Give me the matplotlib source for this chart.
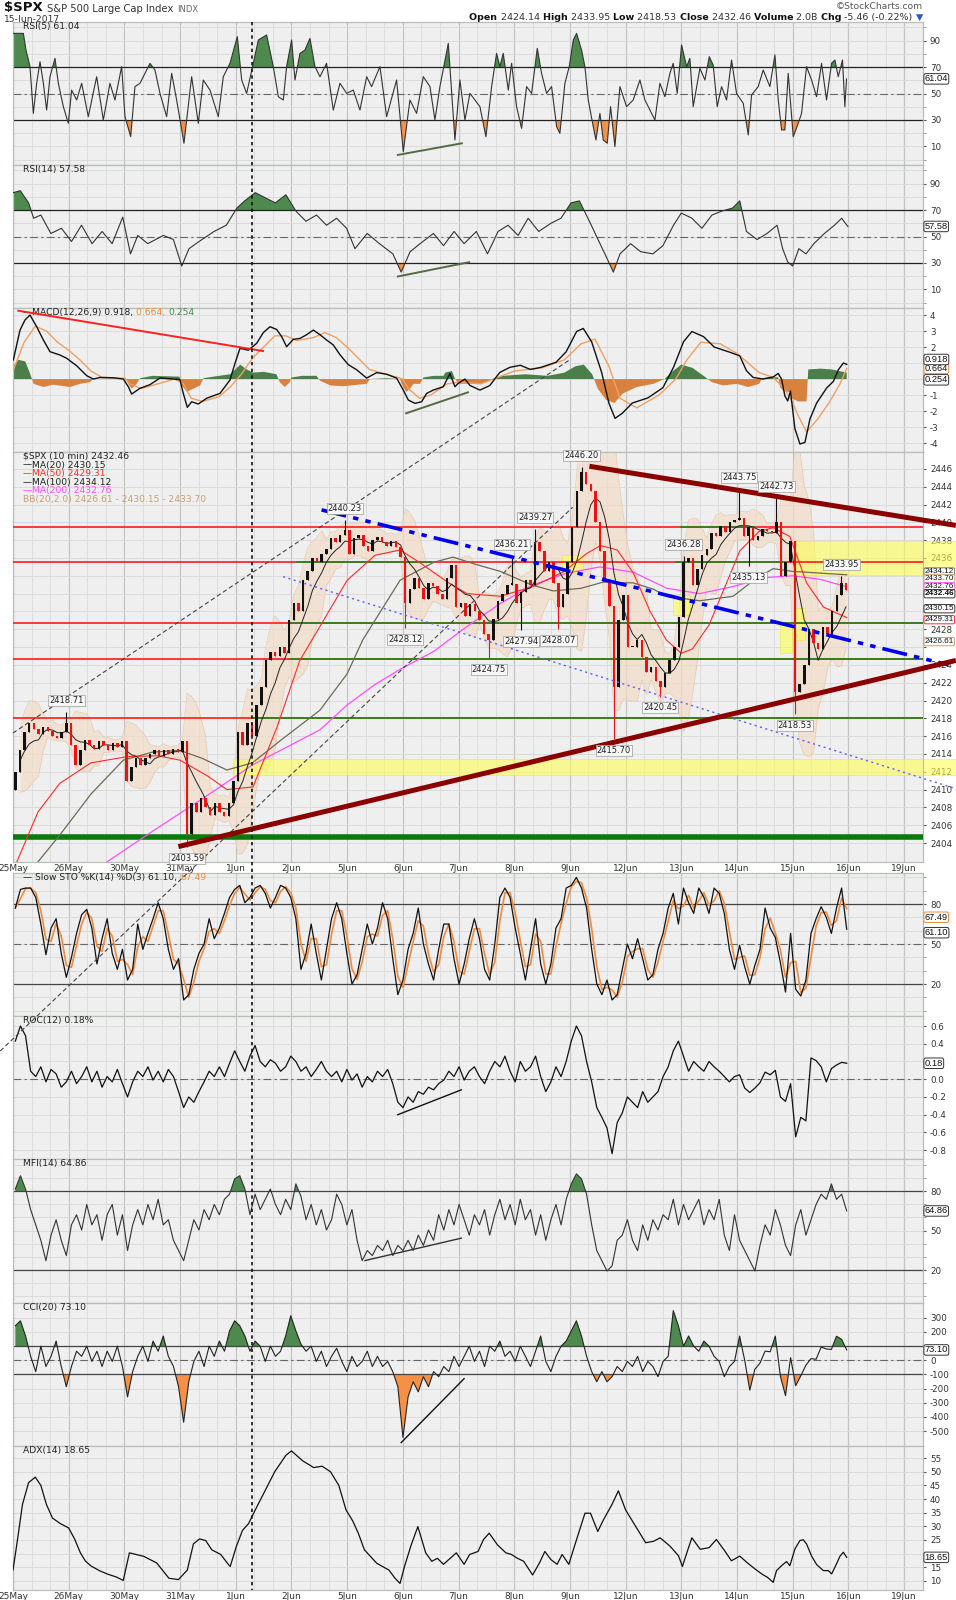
"""StockCharts style 10-minute $SPX chart with eight indicator panels."""

import numpy as np
import pandas as pd
import matplotlib

matplotlib.use("Agg")
import matplotlib.pyplot as plt
from matplotlib import transforms
from matplotlib.lines import Line2D
from matplotlib.patches import Rectangle
from matplotlib.ticker import FixedLocator, MultipleLocator, FormatStrFormatter

plt.rcParams["font.family"] = ["DejaVu Sans"]
plt.rcParams["axes.unicode_minus"] = False

# ---------------------------------------------------------------- data
day_labels = ["25May", "26May", "30May", "31May", "1Jun", "2Jun", "5Jun", "6Jun",
              "7Jun", "8Jun", "9Jun", "12Jun", "13Jun", "14Jun", "15Jun", "16Jun", "19Jun"]
bars_per_day = 12
spx_first_open = 2410.0
spx_close = [
    2412.0, 2414.5, 2416.5, 2417.5, 2416.8, 2416.2, 2417.0, 2416.6, 2416.0, 2415.8, 2416.5, 2417.5,
    2415.0, 2412.8, 2414.5, 2415.6, 2415.0, 2414.6, 2415.4, 2415.0, 2414.5, 2415.2, 2414.8, 2415.5,
    2411.0, 2412.5, 2413.5, 2412.8, 2413.5, 2414.0, 2414.5, 2413.8, 2414.5, 2414.0, 2414.6, 2414.2,
    2415.5, 2405.0, 2408.5, 2407.5, 2409.0, 2408.0, 2407.2, 2408.5, 2407.5, 2407.0, 2408.5, 2411.0,
    2416.5, 2415.0, 2417.5, 2416.0, 2419.5, 2421.5, 2424.5, 2425.5, 2425.0, 2426.0, 2425.3, 2429.0,
    2431.0, 2430.0, 2433.5, 2434.5, 2436.0, 2435.5, 2436.5, 2437.0, 2438.3, 2437.8, 2438.6, 2439.1,
    2436.4, 2438.2, 2438.6, 2437.4, 2436.8, 2438.0, 2438.4, 2437.8, 2437.4, 2437.9, 2437.2, 2436.1,
    2431.0, 2432.5, 2433.8, 2432.6, 2431.4, 2433.2, 2432.8, 2432.0, 2431.4, 2433.8, 2435.2, 2430.5,
    2431.0, 2429.5, 2430.8, 2430.0, 2429.0, 2427.5, 2426.8, 2429.2, 2431.2, 2432.0, 2433.0, 2433.1,
    2431.0, 2432.2, 2433.5, 2433.0, 2437.8, 2436.8, 2434.5, 2435.5, 2433.2, 2430.5, 2432.0, 2435.5,
    2439.5, 2443.5, 2445.6, 2444.3, 2443.5, 2440.0, 2436.8, 2433.3, 2430.6, 2421.5, 2429.0, 2431.8,
    2426.0, 2426.0, 2426.8, 2424.9, 2423.2, 2423.8, 2422.2, 2421.5, 2423.1, 2424.5, 2426.0, 2429.4,
    2435.5, 2436.0, 2433.0, 2434.8, 2436.3, 2437.0, 2438.8, 2438.5, 2439.6, 2438.9, 2440.0, 2440.3,
    2440.5, 2438.5, 2439.5, 2438.0, 2438.5, 2439.2, 2439.0, 2438.8, 2440.0, 2434.0, 2435.5, 2437.9,
    2421.0, 2421.8, 2424.0, 2428.0, 2426.5, 2425.8, 2428.2, 2427.5, 2430.0, 2431.8, 2433.2, 2432.46,
]
# (bar index, value) of the labelled swing highs and lows
spx_highs = [(11, 2418.71), (71, 2440.23), (107, 2436.21), (112, 2439.27), (122, 2446.20),
             (144, 2436.28), (156, 2443.75), (164, 2442.73), (178, 2433.95)]
spx_lows = [(37, 2403.59), (84, 2428.12), (102, 2424.75), (109, 2427.94), (117, 2428.07),
            (129, 2415.70), (139, 2420.45), (158, 2435.13), (168, 2418.53)]

ma50 = [(0.07, 2401.9), (0.45, 2407.5), (0.84, 2410.7), (1.4, 2413.0), (2.05, 2413.7), (2.6, 2413.8),
        (3.0, 2413.3), (3.5, 2411.5), (3.84, 2410.0), (4.31, 2410.3), (4.74, 2417.0), (5.15, 2424.5),
        (5.51, 2428.3), (6.0, 2433.5), (6.5, 2436.3), (6.95, 2436.9), (7.3, 2435.5),
        (7.8, 2433.3), (8.15, 2432.0), (8.75, 2431.7), (9.34, 2432.8), (9.9, 2434.5), (10.3, 2436.5),
        (10.55, 2437.4), (10.85, 2436.9), (11.14, 2434.3), (11.44, 2430.0), (11.73, 2426.8),
        (12.0, 2425.3), (12.2, 2425.8), (12.5, 2428.5), (12.8, 2433.0), (13.05, 2436.8),
        (13.4, 2439.0), (13.65, 2439.4), (13.95, 2438.4), (14.25, 2433.2), (14.55, 2430.5),
        (14.97, 2429.31)]
ma100 = [(0.45, 2401.9), (0.84, 2404.9), (1.4, 2409.5), (1.98, 2413.3), (2.5, 2414.2), (3.0, 2414.4),
         (3.4, 2413.5), (3.84, 2412.2), (4.3, 2413.0), (4.8, 2415.5), (5.51, 2418.9), (6.0, 2423.0),
         (6.28, 2426.8), (6.95, 2433.5), (7.55, 2435.5), (7.9, 2436.1), (8.3, 2435.3), (8.75, 2434.5),
         (9.3, 2433.0), (9.7, 2432.3), (10.2, 2432.6), (10.6, 2433.3), (11.14, 2433.2), (11.5, 2432.5),
         (11.73, 2431.7), (12.33, 2431.2), (12.93, 2431.7), (13.3, 2433.5), (13.65, 2434.8),
         (14.0, 2434.5), (14.5, 2434.3), (14.97, 2434.12)]
ma200 = [(1.6, 2401.5), (1.74, 2402.1), (2.5, 2405.3), (3.36, 2408.8), (4.31, 2412.8), (5.51, 2416.7),
         (6.0, 2419.5), (6.5, 2421.8), (6.95, 2423.5), (7.55, 2425.5), (8.15, 2428.3), (8.75, 2430.9),
         (9.34, 2433.0), (9.94, 2434.3), (10.54, 2435.0), (11.14, 2434.4), (11.74, 2432.6),
         (12.33, 2432.0), (12.93, 2432.8), (13.5, 2433.8), (14.0, 2434.0), (14.5, 2433.6),
         (14.97, 2432.76)]

# horizontal support / resistance levels
red_levels = [2439.5, 2435.6, 2428.7, 2424.7, 2418.0]
green_segments = [(2439.5, 12.0, 13.3), (2435.6, 5.1, 7.5), (2435.6, 11.9, 13.8),
                  (2428.7, 4.97, 16.34), (2424.7, 4.97, 16.34), (2418.0, 4.31, 16.34)]
floor_level = 2404.7
# (day0, value0, day1, value1)
trend_upper = (10.35, 2446.3, 16.93, 2439.66)
trend_lower = (2.97, 2403.6, 16.93, 2424.5)
channel_blue = (5.54, 2441.4, 16.8, 2424.0)
channel_dotted = (4.85, 2433.9, 16.93, 2410.1)
fan_lines = [(0.0, 2416.35, 10.02, 2458.35), (-0.23, 2380.65, 10.05, 2441.7)]
# (day0, day1, low, high)
yellow_zones = [(3.95, 16.93, 2411.6, 2413.45), (14.02, 16.93, 2434.1, 2437.9),
                (9.85, 10.24, 2434.3, 2436.3), (11.85, 12.15, 2429.6, 2431.85),
                (13.77, 13.98, 2425.3, 2428.5), (14.0, 14.22, 2426.8, 2430.35)]
marker_day = 4.3

rsi5 = [(0.006, 95.4), (0.186, 95.4), (0.233, 82.8), (0.305, 70.3), (0.365, 35.0), (0.425, 57.7),
        (0.485, 74.0), (0.545, 57.7), (0.604, 37.5), (0.664, 62.7), (0.754, 76.5), (0.814, 57.7),
        (0.904, 40.1), (0.993, 27.5), (1.053, 52.6), (1.143, 45.1), (1.233, 57.7), (1.352, 32.5),
        (1.502, 62.7), (1.622, 30.0), (1.741, 57.7), (1.831, 45.1), (1.951, 70.3), (2.011, 32.5),
        (2.113, 17.4), (2.190, 55.2), (2.280, 57.7), (2.460, 72.8), (2.549, 67.7), (2.639, 50.1),
        (2.759, 32.5), (2.849, 65.2), (2.938, 45.1), (3.070, 12.4), (3.208, 62.7), (3.327, 27.5),
        (3.417, 60.2), (3.537, 52.6), (3.686, 32.5), (3.776, 62.7), (3.896, 72.8), (4.028, 92.9),
        (4.106, 60.2), (4.195, 50.1), (4.315, 72.8), (4.405, 90.4), (4.554, 94.2), (4.674, 70.3),
        (4.764, 47.6), (4.853, 45.1), (4.913, 70.3), (5.003, 90.4), (5.063, 60.2), (5.153, 80.3),
        (5.242, 82.8), (5.332, 91.6), (5.422, 70.3), (5.512, 62.7), (5.631, 72.8), (5.751, 37.5),
        (5.871, 57.7), (5.991, 50.1), (6.110, 52.6), (6.230, 37.5), (6.350, 62.7), (6.439, 55.2),
        (6.589, 70.3), (6.709, 32.5), (6.888, 60.2), (7.008, 6.1), (7.127, 45.1), (7.247, 35.0),
        (7.367, 62.7), (7.487, 55.2), (7.576, 30.0), (7.666, 55.2), (7.816, 87.9), (7.935, 14.9),
        (8.025, 60.2), (8.115, 30.0), (8.205, 50.1), (8.384, 40.1), (8.492, 17.4), (8.594, 55.2),
        (8.683, 80.3), (8.743, 70.3), (8.803, 80.3), (8.893, 52.6), (8.953, 72.8), (9.042, 40.1),
        (9.132, 23.7), (9.222, 55.2), (9.312, 50.1), (9.414, 84.1), (9.491, 65.2), (9.581, 50.1),
        (9.671, 55.2), (9.761, 25.0), (9.820, 19.9), (9.910, 57.7), (9.988, 70.3), (10.060, 90.4),
        (10.120, 95.4), (10.209, 82.8), (10.269, 70.3), (10.329, 45.1), (10.419, 25.0),
        (10.467, 14.9), (10.539, 35.0), (10.598, 14.9), (10.670, 12.4), (10.730, 40.1),
        (10.808, 9.9), (10.898, 55.2), (11.017, 40.1), (11.137, 45.1), (11.257, 60.2),
        (11.347, 45.1), (11.436, 37.5), (11.526, 30.0), (11.616, 57.7), (11.706, 47.6),
        (11.795, 65.2), (11.855, 72.8), (11.927, 50.1), (12.005, 86.6), (12.095, 70.3),
        (12.154, 76.5), (12.214, 40.1), (12.334, 69.0), (12.424, 60.2), (12.502, 77.8),
        (12.573, 71.5), (12.645, 40.1), (12.723, 55.2), (12.813, 45.1), (12.902, 75.3),
        (12.992, 50.1), (13.112, 42.6), (13.202, 18.7), (13.262, 48.9), (13.381, 55.2),
        (13.471, 67.7), (13.591, 55.2), (13.681, 79.1), (13.741, 45.1), (13.800, 22.5),
        (13.860, 22.5), (13.920, 65.2), (14.010, 17.4), (14.100, 27.5), (14.159, 35.0),
        (14.249, 70.3), (14.339, 60.2), (14.429, 47.6), (14.518, 72.8), (14.608, 45.1),
        (14.698, 72.8), (14.758, 75.3), (14.818, 62.7), (14.895, 75.3), (14.937, 40.1),
        (14.967, 61.04)]

rsi14 = [(0.005, 83.1), (0.13, 84.6), (0.28, 75.4), (0.37, 63.8), (0.5, 66.2), (0.68, 52.3),
         (0.87, 56.2), (1.05, 46.2), (1.23, 58.5), (1.42, 44.6), (1.6, 53.8), (1.78, 44.6),
         (1.97, 64.6), (2.11, 36.9), (2.24, 50.8), (2.42, 44.6), (2.7, 50.8), (2.88, 47.7),
         (3.03, 27.7), (3.16, 40.8), (3.34, 46.2), (3.61, 53.8), (3.83, 58.5), (4.02, 71.5),
         (4.16, 76.9), (4.35, 83.1), (4.53, 79.2), (4.71, 75.4), (4.9, 81.5), (5.08, 69.2),
         (5.26, 61.5), (5.45, 66.2), (5.63, 58.5), (5.81, 63.8), (5.99, 56.2), (6.14, 40.8),
         (6.36, 52.3), (6.58, 44.6), (6.82, 36.9), (6.97, 23.1), (7.13, 38.5), (7.31, 44.6),
         (7.55, 52.3), (7.73, 43.1), (7.92, 53.8), (8.1, 44.6), (8.32, 53.8), (8.52, 36.9),
         (8.71, 53.8), (8.89, 58.5), (9.07, 50.8), (9.25, 63.8), (9.44, 53.8), (9.66, 60.0),
         (9.84, 63.8), (10.02, 75.4), (10.17, 76.9), (10.35, 61.5), (10.54, 44.6), (10.67, 33.1),
         (10.78, 23.1), (10.9, 36.9), (11.09, 44.6), (11.27, 38.5), (11.49, 36.9), (11.67, 43.1),
         (11.86, 58.5), (12.0, 67.7), (12.19, 63.8), (12.37, 56.2), (12.55, 66.2), (12.73, 69.2),
         (12.92, 71.5), (13.05, 76.9), (13.17, 53.8), (13.36, 47.7), (13.54, 52.3), (13.72, 58.5),
         (13.82, 40.8), (13.91, 30.8), (14.0, 27.7), (14.11, 40.8), (14.24, 36.9), (14.38, 44.6),
         (14.57, 52.3), (14.75, 58.5), (14.88, 63.8), (14.99, 57.58)]

macd_line = [(0.006, 1.19), (0.126, 3.06), (0.215, 3.69), (0.305, 4.0), (0.425, 3.27), (0.545, 2.44),
             (0.664, 1.71), (0.844, 1.5), (0.963, 1.3), (1.143, 0.83), (1.323, 0.21), (1.442, 0.0),
             (1.562, 0.1), (1.801, 0.08), (1.981, 0.0), (2.071, -0.48), (2.13, -0.94), (2.28, -0.58),
             (2.46, -0.35), (2.639, 0.06), (2.878, 0.0), (2.998, -0.04), (3.058, -0.9), (3.13, -1.77),
             (3.208, -1.42), (3.327, -1.56), (3.477, -1.2), (3.716, -0.9), (3.896, -0.06),
             (3.986, 0.98), (4.076, 1.92), (4.225, 1.8), (4.375, 2.23), (4.494, 2.9), (4.614, 3.27),
             (4.734, 3.1), (4.824, 2.65), (4.913, 2.02), (5.033, 2.48), (5.153, 2.54), (5.272, 2.77),
             (5.392, 3.06), (5.512, 2.77), (5.631, 2.44), (5.751, 2.13), (5.871, 1.52), (6.02, 0.9),
             (6.17, 0.58), (6.35, 0.06), (6.53, 0.4), (6.71, 0.3), (6.888, 0.06), (7.008, -0.69),
             (7.098, -1.31), (7.217, -1.52), (7.337, -1.42), (7.427, -0.9), (7.546, -0.69),
             (7.726, -0.48), (7.846, 0.35), (7.935, -0.48), (7.995, -0.27), (8.115, 0.0),
             (8.205, -0.4), (8.384, -0.69), (8.56, -0.41), (8.74, 0.41), (8.92, 0.73), (9.11, 0.86),
             (9.29, 0.6), (9.48, 0.73), (9.75, 1.05), (9.93, 1.69), (10.12, 2.97), (10.24, 3.16),
             (10.39, 2.33), (10.57, 0.41), (10.7, -1.5), (10.81, -2.46), (10.94, -2.14),
             (11.12, -1.5), (11.4, -1.18), (11.67, -0.54), (11.86, 0.73), (12.04, 2.33),
             (12.19, 2.97), (12.4, 2.65), (12.59, 2.0), (12.86, 1.69), (13.05, 1.45), (13.17, 0.52),
             (13.29, 0.1), (13.47, 0.0), (13.65, 0.13), (13.74, 0.35), (13.8, 0.0), (13.86, -1.06),
             (13.91, -1.37), (13.96, -0.75), (14.04, -3.1), (14.13, -4.06), (14.22, -3.96),
             (14.31, -2.5), (14.43, -1.5), (14.61, -0.56), (14.73, -0.15), (14.82, 0.58),
             (14.91, 1.0), (14.97, 0.918)]
macd_signal = [(0.0, 0.5), (0.2, 2.3), (0.4, 3.3), (0.6, 3.0), (0.8, 2.3), (1.0, 1.8), (1.2, 1.2),
               (1.4, 0.5), (1.6, 0.1), (2.0, 0.05), (2.1, -0.3), (2.3, -0.6), (2.6, -0.3),
               (2.9, 0.0), (3.06, -0.3), (3.2, -1.2), (3.4, -1.4), (3.7, -1.1), (3.9, -0.5),
               (4.1, 0.3), (4.3, 1.3), (4.5, 2.0), (4.7, 2.7), (4.9, 2.7), (5.1, 2.4), (5.4, 2.6),
               (5.6, 2.9), (5.8, 2.6), (6.0, 2.0), (6.2, 1.3), (6.4, 0.6), (6.7, 0.3), (7.0, 0.0),
               (7.1, -0.6), (7.3, -1.2), (7.5, -1.0), (7.8, -0.3), (8.0, -0.2), (8.4, -0.3),
               (8.7, 0.1), (9.0, 0.5), (9.5, 0.7), (9.9, 1.2), (10.2, 2.2), (10.45, 2.5), (10.7, 0.8),
               (10.9, -1.2), (11.2, -1.8), (11.6, -1.0), (11.9, 0.0), (12.1, 1.2), (12.35, 2.3),
               (12.7, 2.2), (13.0, 1.6), (13.2, 1.0), (13.4, 0.4), (13.65, 0.1), (13.85, -0.6),
               (14.0, -1.5), (14.1, -2.3), (14.25, -3.3), (14.45, -2.5), (14.65, -1.5),
               (14.85, -0.3), (14.97, 0.664)]
macd_hist = [(0.0, 0.8), (0.1, 1.2), (0.22, 1.1), (0.3, 0.4), (0.34, 0.0), (0.37, -0.3), (0.55, -0.5),
             (0.72, -0.35), (1.02, -0.5), (1.2, -0.3), (1.38, -0.2), (1.44, 0.0), (2.03, 0.05),
             (2.07, -0.3), (2.13, -0.6), (2.22, -0.3), (2.28, 0.05), (2.5, 0.2), (2.99, 0.15),
             (3.03, -0.4), (3.12, -0.8), (3.36, -0.4), (3.42, 0.05), (3.6, 0.15), (3.9, 0.3),
             (4.08, 0.9), (4.2, 0.6), (4.31, 0.4), (4.5, 0.45), (4.73, 0.3), (4.79, -0.2),
             (4.88, -0.5), (4.97, -0.2), (5.0, 0.1), (5.2, 0.2), (5.45, 0.2), (5.51, -0.1),
             (5.7, -0.4), (5.93, -0.45), (6.35, -0.3), (6.41, 0.0), (6.7, 0.05), (6.95, 0.0),
             (6.98, -0.3), (7.06, -0.8), (7.13, -0.6), (7.19, -0.3), (7.31, -0.3), (7.37, 0.1),
             (7.55, 0.2), (7.73, 0.2), (7.76, 0.4), (7.88, 0.5), (7.94, 0.0), (8.0, -0.3),
             (8.38, -0.3), (8.5, -0.2), (8.6, 0.0), (8.8, 0.2), (9.2, 0.3), (9.6, 0.2), (9.9, 0.4),
             (10.1, 0.8), (10.25, 0.9), (10.4, 0.3), (10.5, -0.6), (10.65, -1.3), (10.8, -1.5),
             (10.95, -0.9), (11.2, -0.5), (11.5, -0.3), (11.7, 0.0), (11.85, 0.5), (12.0, 0.9),
             (12.2, 0.7), (12.4, 0.2), (12.55, -0.2), (12.75, -0.4), (13.0, -0.3), (13.2, -0.5),
             (13.4, -0.3), (13.45, 0.05), (13.6, 0.12), (13.74, 0.1), (13.77, -0.5), (13.85, -0.8),
             (13.95, -0.8), (13.98, -1.2), (14.1, -1.4), (14.25, -1.4), (14.28, 0.6), (14.5, 0.65),
             (14.7, 0.6), (14.97, 0.4)]

# oscillators sampled at even steps from the first to the last bar
sample_start, sample_end = 0.042, 14.97
sto_k = [77, 91, 92, 92, 85, 65, 42, 62, 69, 43, 25, 40, 58, 72, 76, 62, 35, 54, 69, 43,
         31, 46, 23, 31, 65, 46, 58, 69, 81, 69, 46, 31, 39, 8, 12, 31, 43, 50, 69, 54,
         62, 73, 85, 91, 94, 81, 85, 92, 94, 88, 77, 85, 94, 92, 85, 69, 31, 43, 65, 43,
         23, 46, 69, 81, 69, 43, 20, 27, 46, 65, 50, 62, 81, 69, 39, 12, 23, 46, 58, 77,
         50, 35, 23, 46, 65, 65, 39, 20, 35, 54, 69, 54, 31, 23, 50, 85, 92, 85, 62, 43,
         23, 46, 69, 35, 20, 35, 62, 69, 92, 94, 100, 92, 77, 46, 20, 12, 23, 8, 12, 31,
         50, 39, 54, 39, 23, 27, 46, 58, 77, 88, 65, 92, 81, 73, 92, 85, 73, 92, 88, 73,
         46, 31, 49, 33, 20, 34, 46, 77, 62, 55, 36, 14, 58, 16, 11, 23, 58, 69, 78, 70,
         58, 77, 92, 61.1]
roc = [0.43, 0.6, 0.49, 0.09, 0.03, 0.14, -0.03, 0.11, 0.06, -0.09,
       -0.03, 0.09, -0.05, 0.03, 0.14, -0.03, 0.09, -0.09, 0.03, -0.03,
       0.11, -0.05, -0.2, -0.03, 0.09, 0.03, 0.14, -0.01, 0.09, -0.03,
       0.11, 0.03, -0.14, -0.32, -0.2, -0.26, -0.14, -0.03, 0.09, 0.03,
       0.14, 0.03, 0.18, 0.32, 0.2, 0.09, 0.26, 0.38, 0.2, 0.14,
       0.22, 0.18, 0.09, 0.14, 0.26, 0.2, 0.09, 0.14, 0.03, 0.11,
       0.2, 0.09, 0.03, 0.09, -0.03, 0.11, -0.01, 0.06, -0.09, 0.03,
       -0.03, 0.09, 0.03, 0.11, -0.05, -0.26, -0.32, -0.2, -0.26, -0.14,
       -0.17, -0.09, -0.12, -0.05, -0.01, 0.09, 0.03, 0.14, -0.01, 0.09,
       0.14, 0.03, -0.05, 0.09, 0.2, 0.14, 0.26, 0.09, -0.03, 0.2,
       0.09, 0.14, 0.26, 0.03, -0.14, -0.03, 0.14, 0.03, 0.2, 0.43,
       0.6, 0.49, 0.2, -0.03, -0.32, -0.43, -0.55, -0.84, -0.49, -0.38,
       -0.2, -0.26, -0.32, -0.14, -0.26, -0.2, -0.14, 0.03, 0.14, 0.32,
       0.43, 0.26, 0.09, 0.2, 0.14, 0.09, 0.2, 0.14, 0.09, 0.03,
       -0.03, 0.03, 0.05, -0.1, -0.15, -0.1, -0.04, 0.08, 0.05, 0.1,
       -0.2, -0.25, -0.05, -0.65, -0.43, -0.47, 0.24, 0.21, 0.14, -0.03,
       0.12, 0.16, 0.19, 0.18]
mfi = [81.5, 91.6, 81.5, 65.9, 54.3, 42.6, 27.1, 46.5, 58.2, 42.6,
       31, 54.3, 62, 50.4, 69.8, 54.3, 62, 42.6, 62, 69.8,
       46.5, 62, 34.8, 54.3, 65.9, 54.3, 69.8, 58.2, 73.7, 54.3,
       58.2, 42.6, 34.8, 27.1, 42.6, 58.2, 50.4, 65.9, 58.2, 69.8,
       62, 73.7, 77.6, 89.2, 91.6, 81.5, 62, 77.6, 65.9, 73.7,
       81.5, 69.8, 62, 73.7, 65.9, 85.4, 76, 58.2, 69.8, 54.3,
       65.9, 50.4, 58.2, 77.6, 69.8, 54.3, 65.9, 42.6, 27.1, 34.8,
       31, 38.7, 34.8, 42.6, 31, 38.7, 34.8, 42.6, 34.8, 46.5,
       38.7, 50.4, 42.6, 62, 50.4, 65.9, 54.3, 69.8, 58.2, 46.5,
       62, 54.3, 65.9, 46.5, 62, 73.7, 58.2, 69.8, 54.3, 73.7,
       58.2, 65.9, 46.5, 62, 42.6, 58.2, 69.8, 54.3, 73.7, 85.4,
       93, 89.2, 77.6, 54.3, 34.8, 27.1, 19.3, 23.2, 42.6, 46.5,
       58.2, 42.6, 34.8, 54.3, 42.6, 58.2, 50.4, 62, 58.2, 73.7,
       54.3, 69.8, 58.2, 65.9, 73.7, 54.3, 65.9, 58.2, 73.7, 46.5,
       34.8, 62, 42.6, 34.8, 27.1, 19.3, 38.7, 54.3, 46.5, 65.9,
       54.3, 38.7, 31, 54.3, 65.9, 46.5, 58.2, 69.8, 77.6, 73.7,
       85.4, 73.7, 77.6, 64.86]
cci = [244, 279, 172, 28, -80, 100, -44, 28, 136, -44,
       -187, -44, 64, 28, 100, -8, 64, -44, 64, -8,
       100, -44, -259, -80, 28, 100, -8, 136, 64, 172,
       28, -44, -187, -438, -152, -8, 64, -44, 100, 28,
       136, 64, 208, 279, 244, 172, 64, 136, 100, -8,
       100, 28, 64, 172, 315, 208, 114, 64, 100, -8,
       64, -44, 28, 85, -8, -80, 28, -44, -8, 64,
       -44, 28, -44, -8, -80, -187, -546, -259, -152, -223,
       -116, -187, -80, -116, -44, -80, 28, -44, 28, 100,
       -8, 64, -44, 100, 64, 136, 28, 64, -8, 100,
       28, -44, 64, 172, -8, -80, 28, 100, 136, 208,
       279, 172, 28, -80, -152, -80, -152, -116, -44, -80,
       -8, -44, 28, -80, -8, -44, -116, -8, 28, 351,
       244, 100, 172, 100, 64, 136, 100, 28, -8, -116,
       -44, -8, 171, 0, -211, -63, -20, 65, 60, 171,
       -113, -250, 19, -180, -110, -35, 12, 7, 94, 80,
       77, 170, 148, 73.1]

adx = [(0.0, 14), (0.08, 25), (0.17, 38), (0.28, 46), (0.4, 48), (0.5, 45), (0.6, 38), (0.71, 33),
       (0.85, 31), (1.0, 29.4), (1.11, 25.2), (1.21, 20.3), (1.3, 17.3), (1.4, 15.5), (1.56, 13.7),
       (1.7, 12.5), (1.85, 11.5), (1.98, 10.2), (2.09, 20.3), (2.35, 19), (2.58, 16.6), (2.8, 11),
       (2.97, 10.5), (3.13, 14.0), (3.24, 23.6), (3.35, 25.4), (3.46, 24.8), (3.57, 21.4),
       (3.73, 19.7), (3.85, 16.5), (3.9, 15.3), (4.01, 22.6), (4.12, 28.5), (4.23, 31),
       (4.34, 35.6), (4.5, 42), (4.7, 50), (4.9, 56), (5.0, 57.6), (5.2, 54), (5.4, 51.5),
       (5.55, 52), (5.7, 50), (5.85, 45), (5.98, 36), (6.1, 32), (6.2, 27.5), (6.31, 21.4),
       (6.53, 16.5), (6.75, 14.0), (6.86, 11), (6.95, 9.1), (7.03, 15.3), (7.15, 23.2),
       (7.27, 29.9), (7.41, 20.3), (7.52, 17.2), (7.62, 18.3), (7.73, 16.1), (7.96, 20.3),
       (8.1, 16.1), (8.2, 19.7), (8.35, 20.8), (8.45, 25.2), (8.55, 27.5), (8.7, 23.2),
       (8.85, 20.3), (8.95, 19.7), (9.05, 18.4), (9.17, 17.2), (9.33, 12.2), (9.45, 16.5),
       (9.55, 20.8), (9.66, 17.8), (9.77, 16.1), (9.86, 19.7), (9.98, 16.1), (10.12, 25.2),
       (10.27, 34.8), (10.37, 34.8), (10.5, 28.1), (10.6, 32.3), (10.76, 38.2), (10.87, 43),
       (11.0, 36), (11.18, 30), (11.36, 24), (11.5, 24.5), (11.62, 25.8), (11.8, 22.7),
       (11.95, 19.2), (12.02, 15.3), (12.12, 21.6), (12.19, 25.8), (12.34, 21.6), (12.5, 22.2),
       (12.63, 25.2), (12.78, 21), (12.9, 17.4), (13.05, 19.1), (13.2, 16.4), (13.35, 14),
       (13.45, 12.5), (13.55, 11.3), (13.65, 9.5), (13.71, 13.8), (13.8, 15.6), (13.89, 17.1),
       (13.95, 15.6), (14.04, 21.7), (14.13, 24.8), (14.19, 25.1), (14.25, 23.5), (14.34, 19.1),
       (14.43, 16), (14.55, 13.8), (14.64, 13.8), (14.7, 12.6), (14.79, 16.4), (14.85, 19.1),
       (14.91, 20.5), (14.97, 18.65)]

# hand-drawn trend lines in the indicator panels (day0, value0, day1, value1)
rsi5_trend = (6.91, 3.6, 8.06, 12.4)
rsi14_trend = (6.91, 19.8, 8.19, 30.6)
macd_red_trend = (0.095, 4.27, 4.49, 1.75)
macd_green_trend = (7.06, -2.14, 8.17, -0.83)
roc_trend = (6.91, -0.40, 8.05, -0.12)
mfi_trend = (6.32, 27.2, 8.05, 44.2)
cci_trend = (6.97, -582, 8.10, -130)

# ---------------------------------------------------------------- layout
W, H = 956, 1600
XMAX = 16.34
GREEN_FILL = "#4e8a4e"
ORANGE_FILL = "#f49145"
BG = "#efefef"
TAG_FONT = ["Liberation Sans", "DejaVu Sans"]

fig = plt.figure(figsize=(W / 100, H / 100), dpi=100)
fig.patch.set_facecolor("white")
# transparent full-figure axes that carries the header texts
overlay = fig.add_axes([0, 0, 1, 1], facecolor="none")
overlay.set_axis_off()


def make_panel(top, bottom, ylim, yticks, yminor=()):
    ax = fig.add_axes([13 / W, 1 - bottom / H, 910 / W, (bottom - top) / H])
    ax.set_facecolor(BG)
    ax.set_xlim(0, XMAX)
    ax.set_ylim(*ylim)
    ax.xaxis.set_major_locator(FixedLocator(range(17)))
    ax.xaxis.set_minor_locator(MultipleLocator(1 / 3))
    ax.set_xticklabels([])
    ax.tick_params(axis="x", which="both", length=0)
    ax.yaxis.tick_right()
    ax.set_yticks(yticks)
    if len(yminor):
        ax.set_yticks(yminor, minor=True)
    ax.tick_params(axis="y", which="major", labelsize=6.3, length=2.5, pad=2.5,
                   colors="#555555", labelcolor="#333333")
    ax.tick_params(axis="y", which="minor", length=2, colors="#888888")
    ax.set_axisbelow(True)
    ax.grid(which="major", axis="x", color="#c4c4c4", lw=0.9)
    ax.grid(which="minor", axis="x", color="#dadada", lw=0.6)
    ax.grid(which="both", axis="y", color="#d8d8d8", lw=0.6)
    for s in ax.spines.values():
        s.set_color("#b3c2b3")
        s.set_linewidth(0.9)
    return ax


def date_labels(ax):
    ax.set_xticklabels(day_labels, fontsize=6.5, color="#333333")
    ax.tick_params(axis="x", which="major", pad=1.5)


def chain_line(target, x, y, parts, size, transform, ha="left"):
    """Write coloured pieces one after another on a common bottom edge."""
    prev = None
    seq = parts if ha == "left" else parts[::-1]
    for part in seq:
        text, color, weight = part[:3]
        kw = dict(fontsize=part[3] if len(part) > 3 else size, color=color,
                  fontweight=weight, va="bottom", ha=ha)
        if prev is None:
            prev = target.text(x, y, text, transform=transform, **kw)
        else:
            prev = target.annotate(text, xy=(1 if ha == "left" else 0, 0), xycoords=prev, **kw)
    return prev


def panel_title(ax, parts, line=0):
    y = 1 - (9 + 8.6 * line) / (ax.bbox.height)
    chain_line(ax, 0.011, y, parts, 6.6, ax.transAxes)


def tag(ax, value, text, ec="#333333", weight="normal", dy=0):
    size = 5.9 if len(text) > 5 else 6.7
    ax.annotate(text, xy=(1.0, value), xycoords=("axes fraction", "data"),
                xytext=(1.2, dy), textcoords="offset points", ha="left", va="center",
                fontsize=size, fontweight=weight, color="#111111", annotation_clip=False,
                family=TAG_FONT,
                bbox=dict(boxstyle="round,pad=0.08,rounding_size=0.2", fc="white", ec=ec, lw=0.7),
                zorder=30)


def hide_covered_ticks(ax, values, px=7):
    """Tick labels that sit under a value tag are hidden by it; drop them."""
    to_px = ax.transData.transform
    tag_y = [to_px((0, v))[1] for v in values]
    for tick_val, label in zip(ax.get_yticks(), ax.get_yticklabels()):
        y = to_px((0, tick_val))[1]
        if any(abs(y - ty) < px for ty in tag_y):
            label.set_visible(False)


def seg(ax, line, **kw):
    d0, v0, d1, v1 = line
    ax.plot([d0, d1], [v0, v1], **kw)


def osc_fill(ax, t, v, hi, lo):
    ax.fill_between(t, v, hi, where=v >= hi, interpolate=True, color=GREEN_FILL, lw=0, zorder=2)
    ax.fill_between(t, v, lo, where=v <= lo, interpolate=True, color=ORANGE_FILL, lw=0, zorder=2)


dashdot = (0, (7, 3, 2, 3))
sample_t = np.linspace(sample_start, sample_end, len(sto_k))

# ---- RSI(5)
ax = make_panel(22, 165, (-4, 104), [10, 30, 50, 70, 90], [0, 20, 40, 60, 80, 100])
t, v = np.array(rsi5).T
osc_fill(ax, t, v, 70, 30)
ax.plot(t, v, color="#333333", lw=0.8, zorder=3)
ax.axhline(70, color="#222222", lw=0.9, zorder=2)
ax.axhline(30, color="#222222", lw=0.9, zorder=2)
ax.axhline(50, color="#666666", lw=0.8, ls=dashdot, zorder=2)
seg(ax, rsi5_trend, color="#556b44", lw=1.4, zorder=4)
panel_title(ax, [("RSI(5) 61.04", "#222222", "normal")])
tag(ax, 61.04, "61.04")
hide_covered_ticks(ax, [61.04])

# ---- RSI(14)
ax = make_panel(165, 308, (-4, 104), [10, 30, 50, 70, 90], [0, 20, 40, 60, 80, 100])
t, v = np.array(rsi14).T
osc_fill(ax, t, v, 70, 30)
ax.plot(t, v, color="#333333", lw=0.8, zorder=3)
ax.axhline(70, color="#222222", lw=0.9, zorder=2)
ax.axhline(30, color="#222222", lw=0.9, zorder=2)
ax.axhline(50, color="#666666", lw=0.8, ls=dashdot, zorder=2)
seg(ax, rsi14_trend, color="#556b44", lw=1.4, zorder=4)
panel_title(ax, [("RSI(14) 57.58", "#222222", "normal")])
tag(ax, 57.58, "57.58")
hide_covered_ticks(ax, [57.58])

# ---- MACD
ax = make_panel(308, 452, (-4.56, 4.44), list(range(-4, 5)))
t, v = np.array(macd_hist).T
ax.fill_between(t, v, 0, where=v >= 0, interpolate=True, color="#4a7f4a", lw=0, zorder=2)
ax.fill_between(t, v, 0, where=v <= 0, interpolate=True, color="#d9823f", lw=0, zorder=2)
t, v = np.array(macd_signal).T
ax.plot(t, v, color="#f0a060", lw=1.0, zorder=3)
t, v = np.array(macd_line).T
ax.plot(t, v, color="#111111", lw=1.0, zorder=4)
seg(ax, macd_red_trend, color="#ff2020", lw=1.4, zorder=5)
seg(ax, macd_green_trend, color="#556b44", lw=1.4, zorder=5)
panel_title(ax, [("\u2014MACD(12,26,9) 0.918, ", "#222222", "normal"),
                 ("0.664, ", "#f08a3c", "normal"), ("0.254", "#4a8a4a", "normal")])
tag(ax, 0.664, "0.664", ec="#f08a3c")
tag(ax, 0.918, "0.918", dy=3.5)
tag(ax, 0.254, "0.254", dy=-3.5)
hide_covered_ticks(ax, [0.918, 0.254])

# ---- price panel
spx = make_panel(452, 862, (2401.87, 2447.9), list(range(2404, 2447, 2)))
spx.set_zorder(5)
date_labels(spx)
closes = np.array(spx_close)
opens = np.concatenate([[spx_first_open], closes[:-1]])
t_bar = (np.arange(len(closes)) + 0.5) / bars_per_day
highs = np.maximum(opens, closes)
lows = np.minimum(opens, closes)
for i, val in spx_highs:
    highs[i] = val
for i, val in spx_lows:
    lows[i] = val

s = pd.Series(closes)
mid = s.rolling(6, min_periods=2).mean().to_numpy()
dev = s.rolling(6, min_periods=2).std().to_numpy()
spx.fill_between(t_bar, mid - 2 * dev, mid + 2 * dev, color="#f3dcc7", alpha=0.7, lw=0, zorder=1)
spx.plot(t_bar, mid - 2 * dev, color="#e6cbb2", lw=0.5, zorder=1)
spx.plot(t_bar, mid + 2 * dev, color="#e6cbb2", lw=0.5, zorder=1)

for d0, d1, lo, hi in yellow_zones:
    spx.add_patch(Rectangle((d0, lo), d1 - d0, hi - lo, fc="#ffff55", ec="#e8e830", lw=0.6,
                            alpha=0.6, zorder=2, clip_on=False))

for lvl in red_levels:
    spx.axhline(lvl, color="#ff1a1a", lw=1.2, zorder=3)
for lvl, d0, d1 in green_segments:
    spx.plot([d0, d1], [lvl, lvl], color="#1a8a1a", lw=1.2, zorder=3)
spx.axhline(floor_level, color="#0a7a0a", lw=4, zorder=3)

t, v = np.array(ma200).T
spx.plot(t, v, color="#ff4dff", lw=0.9, zorder=4)
t, v = np.array(ma100).T
spx.plot(t, v, color="#6b6b55", lw=0.9, zorder=4)
t, v = np.array(ma50).T
spx.plot(t, v, color="#ff2a2a", lw=0.8, zorder=4)
spx.plot(t_bar, mid, color="#222222", lw=0.7, zorder=4)

colors = np.where(closes >= opens, "#111111", "#ee1111")
spx.vlines(t_bar, lows, highs, colors=colors, lw=0.8, zorder=5)
spx.bar(t_bar, np.maximum(np.abs(closes - opens), 0.15), bottom=np.minimum(opens, closes),
        width=0.045, color=colors, lw=0, zorder=5)

seg(spx, channel_dotted, color="#5c5cff", lw=1.0, ls=(0, (1.5, 2.5)), zorder=6, clip_on=False)
seg(spx, channel_blue, color="#0000ee", lw=2.6, ls=(0, (7, 2, 1.5, 2, 1.5, 2)), zorder=6,
    clip_on=False)
for line in fan_lines:
    seg(spx, line, color="#444444", lw=0.8, ls=(0, (4, 2.5)), zorder=6, clip_on=False)
seg(spx, trend_upper, color="#8b0000", lw=3.6, zorder=7, clip_on=False, solid_capstyle="butt")
seg(spx, trend_lower, color="#8b0000", lw=3.6, zorder=7, clip_on=False, solid_capstyle="butt")

box = dict(boxstyle="square,pad=0.12", fc="#f7f7f7", ec="#9a9a9a", lw=0.5)
for i, val in spx_highs:
    spx.annotate(f"{val:.2f}", xy=(t_bar[i], val), xytext=(0, 5), textcoords="offset points",
                 ha="center", va="bottom", fontsize=6, color="#222222", bbox=box, zorder=8)
for i, val in spx_lows:
    spx.annotate(f"{val:.2f}", xy=(t_bar[i], val), xytext=(0, -5), textcoords="offset points",
                 ha="center", va="top", fontsize=6, color="#222222", bbox=box, zorder=8)

panel_title(spx, [("$SPX (10 min) 2432.46", "#222222", "normal")], 0)
panel_title(spx, [("\u2014", "#222222", "normal"), ("MA(20) 2430.15", "#222222", "normal")], 1)
panel_title(spx, [("\u2014", "#ff2a2a", "normal"), ("MA(50) 2429.31", "#ff2a2a", "normal")], 2)
panel_title(spx, [("\u2014", "#222222", "normal"), ("MA(100) 2434.12", "#222222", "normal")], 3)
panel_title(spx, [("\u2014", "#ff4dff", "normal"), ("MA(200) 2432.76", "#ff4dff", "normal")], 4)
panel_title(spx, [("BB(20,2.0) 2426.61 - 2430.15 - 2433.70", "#c8a070", "normal")], 5)
tag(spx, 2434.12, "2434.12", ec="#777777", dy=2)
tag(spx, 2433.70, "2433.70", ec="#c8a070")
tag(spx, 2432.76, "2432.76", ec="#ff4dff")
tag(spx, 2432.46, "2432.46", weight="bold", dy=-3)
tag(spx, 2430.15, "2430.15", dy=1)
tag(spx, 2429.31, "2429.31", ec="#ff2a2a", dy=-1.5)
tag(spx, 2426.61, "2426.61", ec="#c8a070")
hide_covered_ticks(spx, [2434.12, 2432.46, 2430.15, 2429.31, 2426.61])

# ---- Slow stochastic
ax = make_panel(873, 1016, (-4, 103.3), [20, 50, 80], [0, 10, 30, 40, 60, 70, 90, 100])
k = np.array(sto_k, dtype=float)
d = pd.Series(k).rolling(2, min_periods=1).mean().to_numpy()
ax.axhline(80, color="#444444", lw=0.9, zorder=2)
ax.axhline(20, color="#444444", lw=0.9, zorder=2)
ax.axhline(50, color="#666666", lw=0.8, ls=dashdot, zorder=2)
ax.plot(sample_t, d, color="#f08a3c", lw=1.2, zorder=3)
ax.plot(sample_t, k, color="#111111", lw=0.9, zorder=4)
panel_title(ax, [("\u2014 Slow STO %K(14) %D(3) 61.10, ", "#222222", "normal"),
                 ("67.49", "#f08a3c", "normal")])
tag(ax, 67.49, "67.49", ec="#f08a3c", dy=2.5)
tag(ax, 61.10, "61.10", dy=-2.5)

# ---- ROC
ax = make_panel(1016, 1159, (-0.90, 0.713), [-0.8, -0.6, -0.4, -0.2, 0.0, 0.2, 0.4, 0.6])
ax.yaxis.set_major_formatter(FormatStrFormatter("%.1f"))
ax.axhline(0, color="#666666", lw=0.8, ls=dashdot, zorder=2)
ax.plot(sample_t, roc, color="#111111", lw=0.9, zorder=3)
seg(ax, roc_trend, color="#111111", lw=1.0, zorder=4)
panel_title(ax, [("ROC(12) 0.18%", "#222222", "normal")])
tag(ax, 0.18, "0.18")
hide_covered_ticks(ax, [0.18])

# ---- MFI
ax = make_panel(1159, 1303, (-5, 104.3), [20, 50, 80], [0, 10, 30, 40, 60, 70, 90, 100])
v = np.array(mfi)
osc_fill(ax, sample_t, v, 80, 20)
ax.axhline(80, color="#444444", lw=0.9, zorder=2)
ax.axhline(20, color="#444444", lw=0.9, zorder=2)
ax.plot(sample_t, v, color="#333333", lw=0.8, zorder=3)
seg(ax, mfi_trend, color="#333333", lw=1.0, zorder=4)
panel_title(ax, [("MFI(14) 64.86", "#222222", "normal")])
tag(ax, 64.86, "64.86")

# ---- CCI
ax = make_panel(1303, 1446, (-606, 405), list(range(-500, 301, 100)))
v = np.array(cci, dtype=float)
osc_fill(ax, sample_t, v, 100, -100)
ax.axhline(100, color="#444444", lw=0.9, zorder=2)
ax.axhline(-100, color="#444444", lw=0.9, zorder=2)
ax.axhline(0, color="#666666", lw=0.8, ls=dashdot, zorder=2)
ax.plot(sample_t, v, color="#222222", lw=0.8, zorder=3)
seg(ax, cci_trend, color="#111111", lw=1.0, zorder=4)
panel_title(ax, [("CCI(20) 73.10", "#222222", "normal")])
tag(ax, 73.10, "73.10")
hide_covered_ticks(ax, [73.10])

# ---- ADX
ax = make_panel(1446, 1590, (6.7, 59.4), list(range(10, 56, 5)))
date_labels(ax)
t, v = np.array(adx).T
ax.plot(t, v, color="#111111", lw=0.9, zorder=3)
panel_title(ax, [("ADX(14) 18.65", "#222222", "normal")])
tag(ax, 18.65, "18.65")
hide_covered_ticks(ax, [18.65])

# ---- vertical dotted marker through every panel
blend = transforms.blended_transform_factory(spx.transData, fig.transFigure)
fig.add_artist(Line2D([marker_day, marker_day], [1 - 22 / H, 1 - 1590 / H], transform=blend,
                      color="#111111", lw=1.2, ls=(0, (2, 2)), zorder=10))

# ---- header
tr = overlay.transAxes
chain_line(overlay, 4 / W, 1 - 14 / H,
           [("$SPX ", "#111111", "bold", 9.5), ("S&P 500 Large Cap Index ", "#333333", "normal", 7.2),
            ("INDX", "#666666", "normal", 6.0)], 7.2, tr)
overlay.text(4 / W, 1 - 24 / H, "15-Jun-2017", fontsize=6.6, color="#333333", va="bottom",
             transform=tr)
overlay.text(923 / W, 1 - 11 / H, "\u00a9StockCharts.com", fontsize=6.6, color="#555555",
             ha="right", va="bottom", transform=tr)
chain_line(overlay, 923 / W, 1 - 22 / H,
           [("Open ", "#111111", "bold"), ("2424.14 ", "#333333", "normal"),
            ("High ", "#111111", "bold"), ("2433.95 ", "#333333", "normal"),
            ("Low ", "#111111", "bold"), ("2418.53 ", "#333333", "normal"),
            ("Close ", "#111111", "bold"), ("2432.46 ", "#333333", "normal"),
            ("Volume ", "#111111", "bold"), ("2.0B ", "#333333", "normal"),
            ("Chg ", "#111111", "bold"), ("-5.46 (-0.22%) ", "#333333", "normal"),
            ("\u25bc", "#3355cc", "normal")],
           6.8, tr, ha="right")

fig.savefig("out.png", dpi=100, facecolor="white")
